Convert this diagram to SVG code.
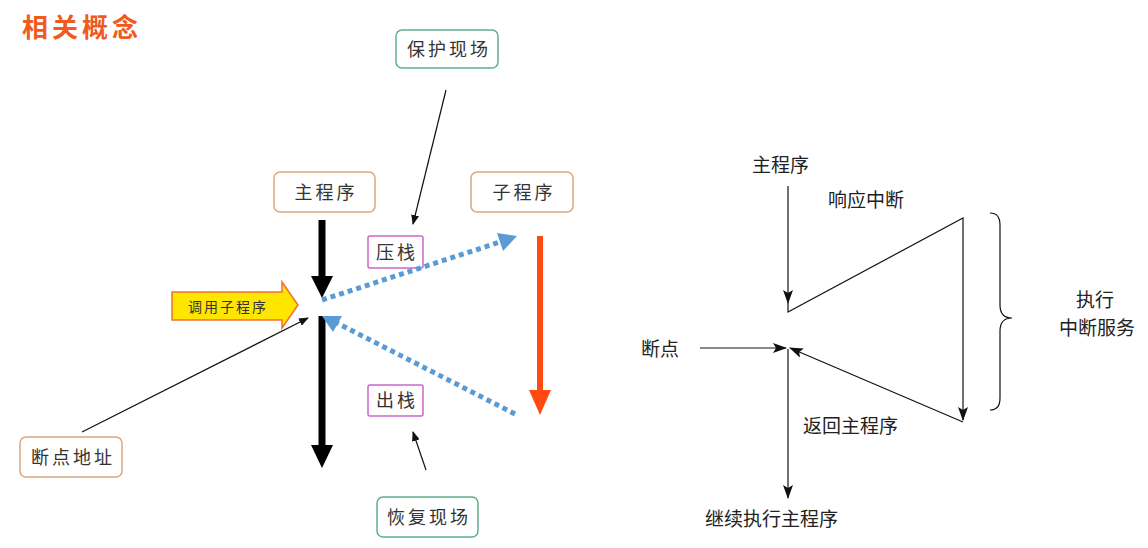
<svg xmlns="http://www.w3.org/2000/svg" width="1148" height="548" viewBox="0 0 1148 548">
<style>
text{font-family:"Noto Sans CJK SC","Liberation Sans",sans-serif;}
.box{fill:#fff;stroke-width:1.5;}
.lbl{font-size:18px;fill:#333;text-anchor:middle;letter-spacing:3px;}
.rt{font-size:19px;fill:#222;}
.thin{stroke:#111;stroke-width:1.2;fill:none;}
</style>
<defs>
<marker id="ah" markerWidth="10" markerHeight="8" refX="9" refY="4" orient="auto" markerUnits="userSpaceOnUse"><path d="M0,0 L10,4 L0,8 Z" fill="#111"/></marker>
<marker id="ahr" markerWidth="14" markerHeight="10" refX="13" refY="5" orient="auto" markerUnits="userSpaceOnUse"><path d="M0,0 L14,5 L0,10 L3,5 Z" fill="#111"/></marker>
</defs>
<rect width="1148" height="548" fill="#fff"/>
<text x="22" y="37" font-size="26" font-weight="bold" fill="#f05a1e" letter-spacing="4">相关概念</text>

<g id="baohu"><rect class="box" stroke="#5fb08a" x="396" y="30" width="102" height="38" rx="6"/><text class="lbl" x="449" y="56">保护现场</text></g>
<g id="zhu"><rect class="box" stroke="#d9a77e" x="274" y="172" width="101" height="40" rx="6"/><text class="lbl" x="326" y="199">主程序</text></g>
<g id="zi"><rect class="box" stroke="#d9a77e" x="471" y="172" width="102" height="40" rx="6"/><text class="lbl" x="524" y="199">子程序</text></g>
<g id="yazhan"><rect class="box" stroke="#cc66cc" x="368" y="236" width="55" height="32" rx="2"/><text class="lbl" x="397" y="259">压栈</text></g>
<g id="chuzhan"><rect class="box" stroke="#cc66cc" x="368" y="385" width="55" height="31" rx="2"/><text class="lbl" x="397" y="407">出栈</text></g>
<g id="huifu"><rect class="box" stroke="#5fb08a" x="377" y="497" width="101" height="40" rx="6"/><text class="lbl" x="429" y="524">恢复现场</text></g>
<g id="duandian"><rect class="box" stroke="#d9a77e" x="20" y="437" width="102" height="40" rx="6"/><text class="lbl" x="73" y="464">断点地址</text></g>
<g id="diaoyong"><path d="M172,292 H282 V282 L298,305 L282,328 V320 H172 Z" fill="#ffe600" stroke="#f07030" stroke-width="1.5"/><text x="228" y="312" font-size="14" fill="#333" text-anchor="middle" letter-spacing="2">调用子程序</text></g>

<g id="connectors">
<line x1="322" y1="220" x2="322" y2="280" stroke="#000" stroke-width="7"/><path d="M311,276 L333,276 L322,298 Z" fill="#000"/>
<line x1="322" y1="316" x2="322" y2="448" stroke="#000" stroke-width="7"/><path d="M311,445 L333,445 L322,468 Z" fill="#000"/>
<line x1="540" y1="236" x2="540" y2="394" stroke="#ff4a10" stroke-width="6"/><path d="M529,390 L551,390 L540,415 Z" fill="#ff4a10"/>
<line x1="322" y1="300" x2="500" y2="242" stroke="#5b9bd5" stroke-width="5" stroke-dasharray="5,4"/><path d="M517,236 L497,233 L503,251 Z" fill="#5b9bd5"/>
<line x1="515" y1="414" x2="337" y2="323" stroke="#5b9bd5" stroke-width="5" stroke-dasharray="5,4"/><path d="M322,316 L342,316 L333,332 Z" fill="#5b9bd5"/>
<line class="thin" x1="446" y1="90" x2="413" y2="224" marker-end="url(#ah)"/>
<line class="thin" x1="82" y1="432" x2="308" y2="318" marker-end="url(#ah)"/>
<line class="thin" x1="426" y1="470" x2="413" y2="432" marker-end="url(#ah)"/>

<line class="thin" x1="788" y1="186" x2="788" y2="303" marker-end="url(#ahr)"/>
<polyline class="thin" points="788,303 788,312 963,218 963,420" marker-end="url(#ahr)"/>
<line class="thin" x1="963" y1="422" x2="790" y2="348" marker-end="url(#ahr)"/>
<line class="thin" x1="700" y1="348" x2="786" y2="348" marker-end="url(#ahr)"/>
<line class="thin" x1="788" y1="349" x2="788" y2="498" marker-end="url(#ahr)"/>
<path class="thin" stroke-width="1.5" d="M990,213 Q1000,213 1000,225 V305 Q1000,318 1012,318 Q1000,318 1000,331 V398 Q1000,410 990,410"/>
</g>

<text class="rt" x="752" y="172">主程序</text>
<text class="rt" x="828" y="207">响应中断</text>
<text class="rt" x="641" y="356">断点</text>
<text class="rt" x="803" y="433">返回主程序</text>
<text class="rt" x="705" y="526">继续执行主程序</text>
<text class="rt" x="1095" y="307" text-anchor="middle">执行</text>
<text class="rt" x="1097" y="335" text-anchor="middle">中断服务</text>
</svg>
